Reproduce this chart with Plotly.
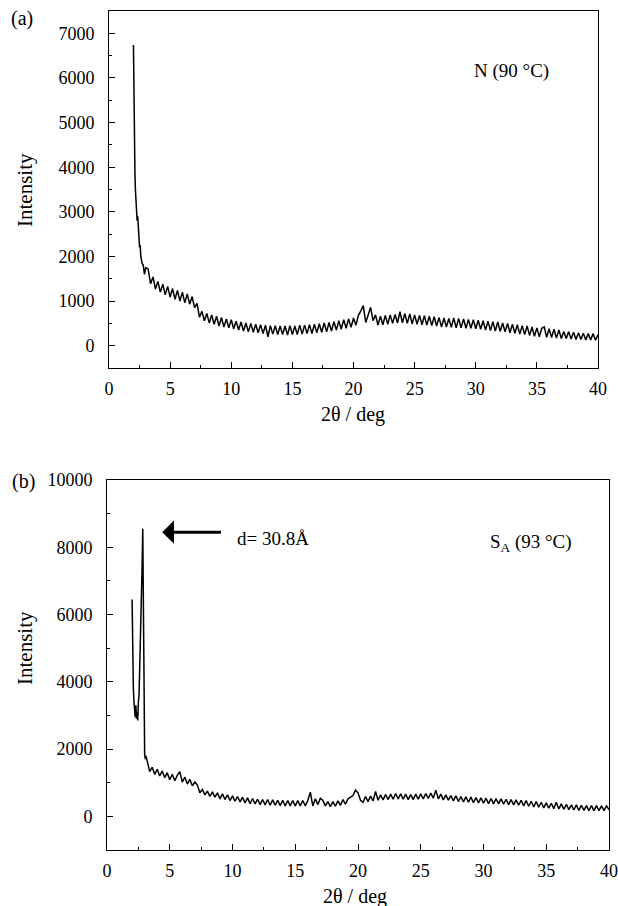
import numpy as np
import plotly.graph_objects as go

# ---------------- data: panel (a) N (90 °C) ----------------
two_theta_a_low = [2.00, 2.02, 2.05, 2.08, 2.12, 2.16, 2.20, 2.25, 2.30, 2.35,
                   2.40, 2.45, 2.50, 2.55, 2.60, 2.65, 2.70, 2.80, 2.90, 3.00]
intensity_a_low = [6740, 5900, 5050, 4300, 3880, 3500, 3200, 3050, 2800, 2900,
                   2500, 2430, 2200, 2250, 2000, 1900, 1850, 1800, 1600, 1750]

two_theta_grid = list(np.round(np.arange(3.2, 40.0001, 0.2), 1))

intensity_a = [
    1720, 1390, 1540, 1270, 1440, 1200, 1380, 1140, 1330, 1090,
    1280, 1040, 1240, 1000, 1200, 960, 1160, 930, 1100, 850,
    950, 640, 770, 560, 720, 510, 690, 480, 660, 440,
    630, 420, 600, 400, 580, 380, 550, 350, 530, 330,
    510, 310, 500, 300, 480, 290, 470, 270, 460, 200,
    450, 260, 450, 250, 440, 250, 440, 240, 450, 250,
    440, 250, 460, 260, 460, 270, 470, 270, 480, 290,
    490, 300, 510, 310, 520, 330, 540, 350, 560, 370,
    580, 390, 600, 410, 620, 460, 680, 780, 900, 520,
    720, 860, 560, 690, 460, 660, 470, 680, 480, 690,
    500, 700, 510, 760, 510, 720, 500, 710, 490, 690,
    480, 680, 470, 670, 460, 660, 450, 650, 440, 630,
    420, 620, 420, 610, 410, 620, 400, 610, 400, 600,
    390, 590, 390, 580, 380, 570, 370, 560, 350, 550,
    340, 540, 330, 530, 320, 510, 310, 500, 290, 480,
    280, 470, 260, 450, 250, 440, 230, 420, 210, 400,
    200, 390, 420, 190, 380, 180, 370, 170, 350, 160,
    320, 160, 310, 150, 300, 140, 290, 140, 280, 130,
    270, 130, 270, 120, 250,
]

# ---------------- data: panel (b) SA (93 °C) ----------------
two_theta_b_low = [2.00, 2.03, 2.06, 2.10, 2.15, 2.20, 2.25, 2.30, 2.35, 2.40,
                   2.45, 2.50, 2.55, 2.60, 2.65, 2.70, 2.75, 2.80, 2.85, 2.88,
                   2.92, 2.96, 3.00, 3.05, 3.10]
intensity_b_low = [6450, 5300, 4500, 3800, 3400, 3100, 2950, 3300, 2900, 3100,
                   2850, 3400, 3600, 4300, 5000, 5500, 6200, 7500, 8550, 6500,
                   5400, 3200, 1850, 1700, 1800]

intensity_b = [
    1650, 1330, 1460, 1250, 1400, 1200, 1350, 1150, 1300, 1090,
    1250, 1060, 1220, 1330, 1020, 1170, 960, 1100, 910, 1020,
    930, 700, 800, 640, 750, 590, 730, 570, 700, 520,
    670, 500, 640, 470, 610, 450, 590, 430, 570, 400,
    550, 380, 530, 370, 510, 350, 500, 340, 500, 330,
    490, 330, 480, 320, 480, 310, 470, 310, 470, 310,
    470, 310, 470, 310, 470, 720, 310, 520, 350, 540,
    470, 310, 440, 290, 440, 300, 460, 330, 500, 360,
    520, 560, 620, 780, 700, 480, 420, 590, 440, 600,
    460, 740, 480, 640, 490, 650, 500, 660, 510, 680,
    520, 670, 510, 660, 500, 650, 500, 660, 510, 670,
    520, 680, 530, 690, 540, 780, 520, 660, 490, 640,
    480, 620, 460, 610, 440, 590, 430, 580, 420, 570,
    410, 560, 400, 550, 390, 540, 380, 530, 370, 530,
    370, 520, 360, 510, 350, 500, 340, 490, 330, 480,
    310, 470, 300, 450, 280, 440, 270, 420, 250, 400,
    240, 390, 230, 420, 220, 370, 210, 360, 200, 340,
    190, 340, 180, 330, 180, 320, 170, 320, 170, 320,
    170, 310, 170, 310, 200,
]

x_ticks = [0, 5, 10, 15, 20, 25, 30, 35, 40]
y_ticks_a = [0, 1000, 2000, 3000, 4000, 5000, 6000, 7000]
y_ticks_b = [0, 2000, 4000, 6000, 8000, 10000]

x_a = two_theta_a_low + two_theta_grid
y_a = intensity_a_low + intensity_a
x_b = two_theta_b_low + two_theta_grid
y_b = intensity_b_low + intensity_b

# ---------------- figure ----------------
W, H = 618, 906
FONT = "Liberation Serif"


def dom_x(l, r):
    return [l / W, r / W]


def dom_y(top, bottom):
    return [1 - bottom / H, 1 - top / H]


fig = go.Figure()
fig.add_trace(go.Scatter(x=x_a, y=y_a, mode="lines",
                         line=dict(color="black", width=1.5),
                         xaxis="x", yaxis="y", showlegend=False))
fig.add_trace(go.Scatter(x=x_b, y=y_b, mode="lines",
                         line=dict(color="black", width=1.5),
                         xaxis="x2", yaxis="y2", showlegend=False))

axis_common = dict(showline=True, linecolor="black", linewidth=1, mirror=True,
                   ticks="inside", ticklen=6, tickwidth=1, tickcolor="black",
                   showgrid=False, zeroline=False, automargin=False,
                   tickfont=dict(family=FONT, size=18, color="black"))


def minor(d):
    return dict(dtick=d, tick0=0, ticks="inside", ticklen=3, tickcolor="black",
                showgrid=False)


fig.update_layout(
    width=W, height=H,
    margin=dict(l=0, r=0, t=0, b=0, autoexpand=False),
    paper_bgcolor="white", plot_bgcolor="white",
    font=dict(family=FONT, size=18, color="black"),
    xaxis=dict(domain=dom_x(109, 598), anchor="y", range=[0, 40],
               tickvals=x_ticks, ticktext=[str(v) for v in x_ticks],
               ticklabelstandoff=4, minor=minor(2.5), **axis_common),
    yaxis=dict(domain=dom_y(11, 368), anchor="x", range=[-500, 7500],
               tickvals=y_ticks_a, ticktext=[str(v) for v in y_ticks_a],
               ticklabelstandoff=10, minor=minor(500), **axis_common),
    xaxis2=dict(domain=dom_x(107, 609), anchor="y2", range=[0, 40],
                tickvals=x_ticks, ticktext=[str(v) for v in x_ticks],
                ticklabelstandoff=4, minor=minor(2.5), **axis_common),
    yaxis2=dict(domain=dom_y(480, 850), anchor="x2", range=[-1000, 10000],
                tickvals=y_ticks_b, ticktext=[str(v) for v in y_ticks_b],
                ticklabelstandoff=10, minor=minor(1000), **axis_common),
)


def paper_ann(text, px, py, size=20, angle=0, xanchor="center", yanchor="middle"):
    fig.add_annotation(text=text, x=px / W, y=1 - py / H, xref="paper", yref="paper",
                       showarrow=False, textangle=angle,
                       font=dict(family=FONT, size=size, color="black"),
                       xanchor=xanchor, yanchor=yanchor)


paper_ann("(a)", 22, 19, size=20)
paper_ann("(b)", 23, 481, size=20)
paper_ann("Intensity", 25, 190, size=21, angle=-90)
paper_ann("Intensity", 25, 648, size=21, angle=-90)
paper_ann("2θ / deg", 353, 414, size=20)
paper_ann("2θ / deg", 355, 896, size=20)
paper_ann("N (90 °C)", 511, 71, size=19)
paper_ann("S<sub>A</sub> (93 °C)", 531, 543, size=19)
paper_ann("d= 30.8Å", 235, 538, size=19, xanchor="left")

# arrow pointing at the 2θ ≈ 2.9° reflection
fig.add_annotation(x=4.4, y=8450, ax=9.2, ay=8450,
                   xref="x2", yref="y2", axref="x2", ayref="y2",
                   text="", showarrow=True, arrowhead=1, arrowsize=1.3,
                   arrowwidth=3, arrowcolor="black", standoff=0)

fig.write_html("out.html",
               config={"displayModeBar": False},
               post_script="document.body.style.margin='0';"
                           "document.body.style.padding='0';"
                           "document.body.style.overflow='hidden';")
